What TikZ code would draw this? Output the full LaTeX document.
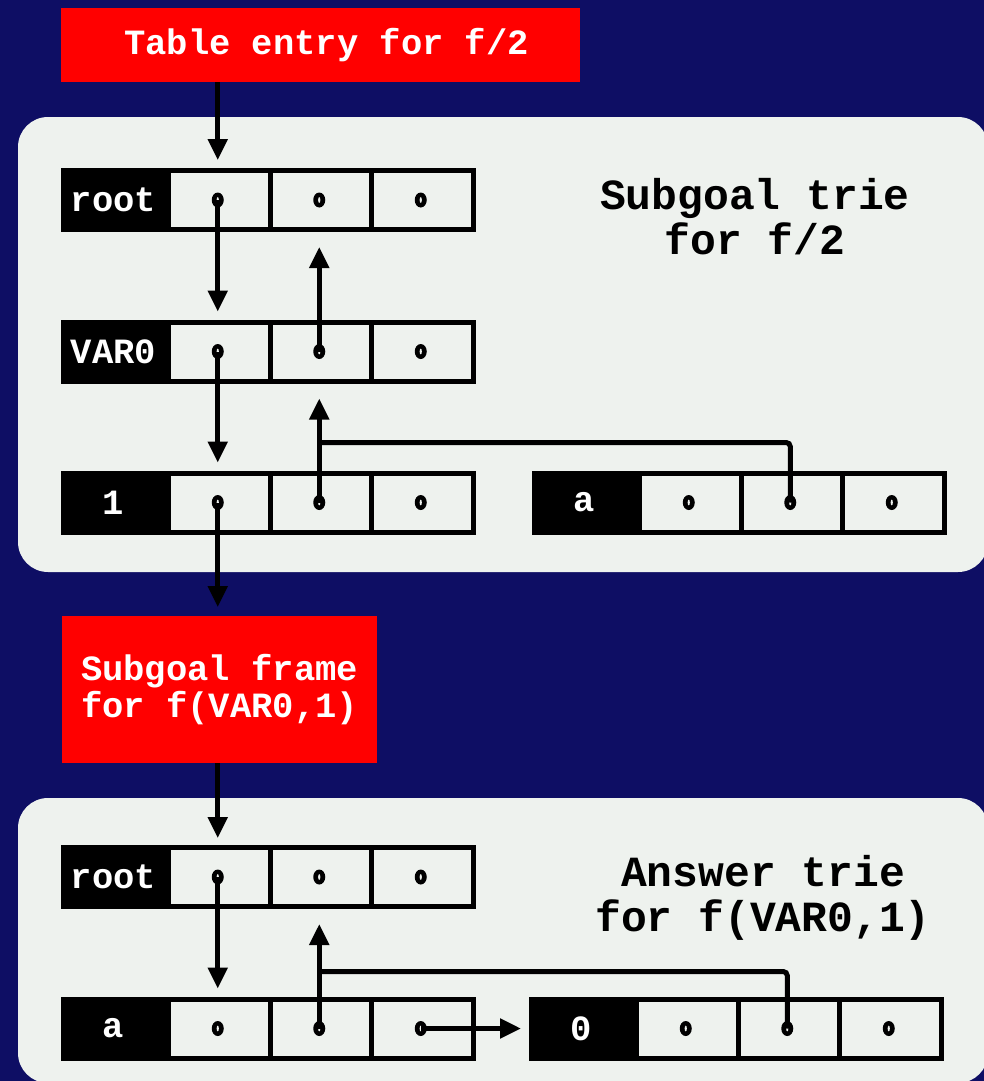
\documentclass[tikz,border=0pt]{standalone}
\usepackage{fontspec}
\newfontfamily\cour{Liberation Mono}
\usetikzlibrary{arrows.meta}
\definecolor{navy}{RGB}{14,14,100}
\definecolor{panel}{RGB}{238,242,238}
\definecolor{redbox}{RGB}{255,0,0}
\tikzset{
  cell/.style={draw=black, line width=5pt, fill=panel, minimum width=101.5pt, minimum height=59pt, inner sep=0pt, outer sep=0pt},
  lab/.style={fill=black, minimum width=105pt, minimum height=64pt, inner sep=0pt, outer sep=0pt, text=white, font=\cour\bfseries\fontsize{35.5}{36}\selectfont},
  ptr/.style={line width=5pt, -{Triangle[length=21pt,width=19pt]}},
  link/.style={line width=5pt, rounded corners=4pt},
  redb/.style={fill=redbox, inner sep=0pt, outer sep=0pt, text=white, font=\cour\bfseries\fontsize{35.5}{37}\selectfont},
  title/.style={align=center, inner sep=0pt, text=black, font=\cour\bfseries\fontsize{43}{45}\selectfont},
  panelbg/.style={fill=panel, rounded corners=30pt}
}
\newcommand\mkrec[4]{%
  \node[lab] (#1l) at (#2+52.5,#3) {#4};
  \node[cell] (#1a) at (#2+158.25,#3) {};
  \node[cell] (#1b) at (#2+259.75,#3) {};
  \node[cell] (#1c) at (#2+361.25,#3) {};
  \coordinate (#1aD) at (#2+156.75,#3);
  \coordinate (#1bD) at (#2+258.25,#3);
  \coordinate (#1cD) at (#2+359.75,#3);
  \mkdot{#1aD}\mkdot{#1bD}\mkdot{#1cD}%
}
\newcommand\mkdot[1]{%
  \fill[black] (#1) ellipse [x radius=6pt, y radius=7.5pt];
  \fill[panel] (#1) ellipse [x radius=1.1pt, y radius=2.8pt];
}
\begin{document}
\begin{tikzpicture}[x=1pt,y=-1pt]
\useasboundingbox (0,0) rectangle (984,1081);
\fill[navy] (0,0) rectangle (984,1081);
% panels
\fill[panelbg] (18,117) rectangle (988,572);
\fill[panelbg] (18,798) rectangle (988,1083);
% red boxes
\node[redb, minimum width=519pt, minimum height=74pt] (te) at (320.5,45) {\hspace{12pt}Table entry for f/2};
\node[redb, minimum width=315pt, minimum height=147pt, align=left] (sf) at (219.5,689.5) {Subgoal frame\\for f(VAR0,1)};
% titles
\node[title] (t1) at (755,217) {Subgoal trie\\for f/2};
\node[title] (t2) at (763,898) {Answer trie\\for f(VAR0,1)};
% records
\mkrec{r}{61}{200}{root}
\mkrec{v}{61}{351.5}{VAR0}
\mkrec{o}{61}{502.5}{1}
\mkrec{s}{532}{502.5}{a}
\mkrec{q}{61}{877}{root}
\mkrec{p}{61}{1028.5}{a}
\mkrec{z}{529}{1028.5}{0}
% junction coordinates
\path (obD) ++(0,-60) coordinate (j1);
\path (pbD) ++(0,-57) coordinate (j2);
% connectors
\draw[ptr, shorten >=10.5pt] (te.south -| raD) -- (ra.north -| raD);
\draw[ptr, shorten >=10.5pt] (raD) -- (va.north -| raD);
\draw[ptr, shorten >=17.5pt] (vbD) -- (rb.south -| vbD);
\draw[ptr, shorten >=10.5pt] (vaD) -- (oa.north -| vaD);
\draw[ptr, shorten >=17.5pt] (obD) -- (vb.south -| obD);
\draw[link] (sbD) |- (j1);
\draw[ptr, shorten >=9pt] (oaD) -- (sf.north -| oaD);
\draw[ptr, shorten >=9.5pt] (sf.south -| qaD) -- (qa.north -| qaD);
\draw[ptr, shorten >=10.5pt] (qaD) -- (pa.north -| qaD);
\draw[ptr, shorten >=17.5pt] (pbD) -- (qb.south -| pbD);
\draw[link] (zbD) |- (j2);
\draw[ptr, shorten >=8pt] (pcD) -- (zl.west);
\end{tikzpicture}
\end{document}
